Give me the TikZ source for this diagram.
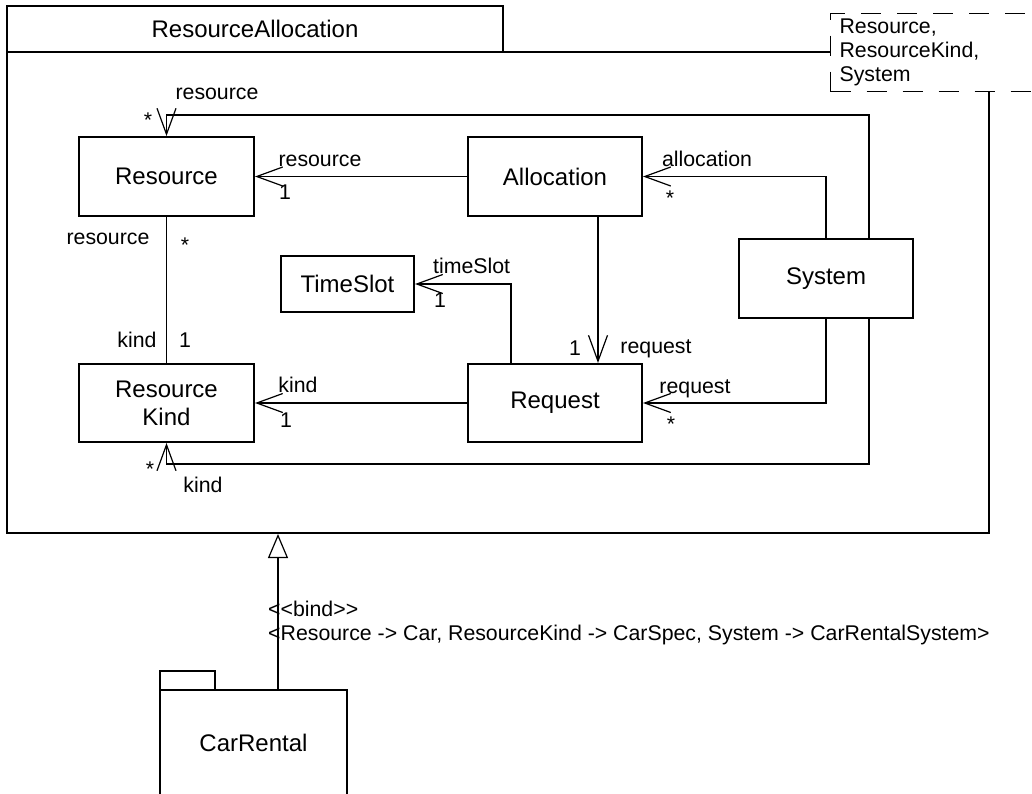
\documentclass[tikz,border=0pt]{standalone}
\usepackage{fontspec}
\setmainfont{Liberation Sans}
\usetikzlibrary{arrows.meta}

\begin{document}
\begin{tikzpicture}[x=1pt,y=-1pt,
  cls/.style={draw,line width=2pt,minimum width=174pt,minimum height=79pt,inner sep=0pt,align=center,font=\fontsize{24}{28}\selectfont},
  pkg/.style={draw,line width=2pt,inner sep=0pt,font=\fontsize{24}{28}\selectfont},
  tmpl/.style={draw,fill=white,line width=1.2pt,dash pattern=on 20pt off 16pt,align=left,text width=220pt,inner xsep=9pt,minimum height=78pt,font=\fontsize{21.3}{24}\selectfont},
  lbl/.style={inner sep=0pt,anchor=base,font=\fontsize{21.3}{24}\selectfont},
  link/.style={line width=1.2pt},
  assoc/.style={link,-{Straight Barb[length=26pt,width=19pt]}},
  bind/.style={link,-{Triangle[open,length=24pt,width=20pt]}}]
  \useasboundingbox (0,0) rectangle (1032,793);
  \clip (0,0) rectangle (1032,793);
  % template package
  \node[pkg,minimum width=982pt,minimum height=481pt] (ra) at (498,292.5) {};
  \node[pkg,minimum width=496pt,minimum height=46pt] (ratab) at (255,29) {ResourceAllocation};
  \node[tmpl,anchor=north west] (params) at (830,13) {Resource,\\ResourceKind,\\System};
  \node[cls,minimum width=175pt] (res) at (166.5,176.5) {Resource};
  \node[cls] (alloc) at (555,176.5) {Allocation};
  \node[cls,minimum width=175pt,minimum height=78pt] (kind) at (166.5,403) {Resource\\Kind};
  \node[cls,minimum height=78pt] (req) at (555,403) {Request};
  \node[cls,minimum width=133pt,minimum height=56pt] (slot) at (347.5,284) {TimeSlot};
  \node[cls] (sys) at (826,278.5) {System};
  \draw[assoc] (alloc) -- (res);
  \draw[link] (res) -- (kind);
  \draw[assoc] (req) -- (kind);
  \draw[assoc] ([xshift=-44pt]req.north) |- (slot.east);
  \draw[assoc] ([xshift=43pt]alloc.south) -- ([xshift=43pt]req.north);
  \draw[assoc] (sys.north) |- (alloc.east);
  \draw[assoc] (sys.south) |- (req.east);
  \draw[assoc] ([xshift=43pt]sys.north) |- ([yshift=21pt]res.north) -- (res.north);
  \draw[assoc] ([xshift=43pt]sys.south) |- ([yshift=-21pt]kind.south) -- (kind.south);
  \node[lbl] (rtop) at (217,99) {resource};
  \node[lbl] (rtopm) at (148,127) {*};
  \node[lbl] (ra1) at (320,166) {resource};
  \node[lbl] (ra1m) at (285,199) {1};
  \node[lbl] (rk1) at (108,244) {resource};
  \node[lbl] (rk1m) at (185,252) {*};
  \node[lbl] (rk2) at (137,347) {kind};
  \node[lbl] (rk2m) at (185,347) {1};
  \node[lbl,anchor=base west] (ts) at (433,273) {timeSlot};
  \node[lbl] (tsm) at (440,307) {1};
  \node[lbl] (kr) at (298,392) {kind};
  \node[lbl] (krm) at (286,427) {1};
  \node[lbl] (kbotm) at (150,476) {*};
  \node[lbl] (kbot) at (203,492) {kind};
  \node[lbl] (al) at (707,166) {allocation};
  \node[lbl] (alm) at (670,205) {*};
  \node[lbl] (rq1m) at (575,355) {1};
  \node[lbl] (rq1) at (656,353) {request};
  \node[lbl] (rq2) at (695,393) {request};
  \node[lbl] (rq2m) at (671,431) {*};
  % bound package
  \node[pkg,minimum width=55pt,minimum height=19pt] (cartab) at (187.5,680.5) {};
  \node[pkg,minimum width=187pt,minimum height=106pt] (car) at (253.5,743) {CarRental};
  \coordinate (bindpt) at ([xshift=24.5pt]car.north);
  \draw[bind] (bindpt) -- (bindpt |- ra.south);
  \node[lbl,anchor=base west] (bindst) at (268,616) {<\kern0pt<bind>\kern0pt>};
  \node[lbl,anchor=base west] (bindargs) at (268,640) {<Resource -> Car, ResourceKind -> CarSpec, System -> CarRentalSystem>};
\end{tikzpicture}
\end{document}
